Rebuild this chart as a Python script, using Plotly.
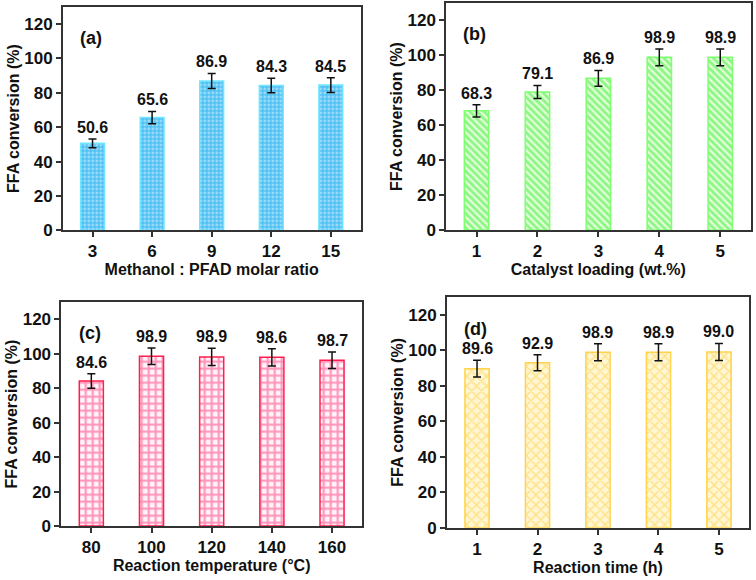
import plotly.graph_objects as go

# ---- data ----
a_cats = ["3", "6", "9", "12", "15"]
a_vals = [50.6, 65.6, 86.9, 84.3, 84.5]
a_err = [2.6, 3.6, 4.4, 4.2, 4.3]
a_labels = ["50.6", "65.6", "86.9", "84.3", "84.5"]

b_cats = ["1", "2", "3", "4", "5"]
b_vals = [68.3, 79.1, 86.9, 98.9, 98.9]
b_err = [3.5, 3.7, 4.5, 4.8, 4.8]
b_labels = ["68.3", "79.1", "86.9", "98.9", "98.9"]

c_cats = ["80", "100", "120", "140", "160"]
c_vals = [84.2, 98.6, 98.2, 98.0, 96.3]
c_err = [4.2, 4.8, 5.0, 5.0, 4.8]
c_labels = ["84.6", "98.9", "98.9", "98.6", "98.7"]

d_cats = ["1", "2", "3", "4", "5"]
d_vals = [89.6, 92.9, 98.9, 98.9, 99.0]
d_err = [4.7, 4.5, 4.8, 4.8, 4.8]
d_labels = ["89.6", "92.9", "98.9", "98.9", "99.0"]

y_ticks = [0, 20, 40, 60, 80, 100, 120]
y_title = "FFA conversion (%)"
x_titles = ["Methanol : PFAD molar ratio", "Catalyst loading (wt.%)",
            "Reaction temperature (°C)", "Reaction time (h)"]
panel_tags = ["(a)", "(b)", "(c)", "(d)"]

FONT = "Liberation Sans, Arial, sans-serif"

panels = [
    dict(cats=a_cats, vals=a_vals, err=a_err, labels=a_labels,
         bg="#4fc0f2", fg="#eaf8ff", shape=".", size=4, sol=0.4, line="#6fe6ff",
         xd=[0.083, 0.477], yd=[0.603, 0.988]),
    dict(cats=b_cats, vals=b_vals, err=b_err, labels=b_labels,
         bg="#e4ffd8", fg="#33ee33", shape="\\", size=5, sol=0.55, line="#7dff6e",
         xd=[0.590, 0.993], yd=[0.603, 0.995]),
    dict(cats=c_cats, vals=c_vals, err=c_err, labels=c_labels,
         bg="#fff4f8", fg="#ff2f7a", shape="+", size=7, sol=0.5, line="#ff1f4f",
         xd=[0.081, 0.479], yd=[0.093, 0.479]),
    dict(cats=d_cats, vals=d_vals, err=d_err, labels=d_labels,
         bg="#fff6d2", fg="#ffc933", shape="x", size=7, sol=0.35, line="#ffd34d",
         xd=[0.591, 0.991], yd=[0.090, 0.488]),
]

fig = go.Figure()
layout = dict(width=756, height=580, margin=dict(l=0, r=0, t=0, b=0),
              paper_bgcolor="white", plot_bgcolor="white", showlegend=False,
              font=dict(family=FONT, color="#111"))
annotations = []

for i, p in enumerate(panels):
    n = "" if i == 0 else str(i + 1)
    xa, ya = "x" + n, "y" + n
    fig.add_trace(go.Bar(
        x=p["cats"], y=p["vals"], xaxis=xa, yaxis=ya, width=0.4,
        marker=dict(color=p["bg"], line=dict(color=p["line"], width=1.5),
                    pattern=dict(shape=p["shape"], fgcolor=p["fg"], bgcolor=p["bg"],
                                 size=p["size"], solidity=p["sol"], fillmode="overlay")),
        error_y=dict(type="data", array=p["err"], color="#111", thickness=1.5, width=4),
    ))
    for k, (v, e, lab) in enumerate(zip(p["vals"], p["err"], p["labels"])):
        annotations.append(dict(
            text=lab, xref=xa, yref=ya, x=k, y=v + e, showarrow=False,
            xanchor="center", yanchor="bottom", yshift=1,
            font=dict(family=FONT, size=16, color="#111", weight="bold"),
        ))
    layout["xaxis" + n] = dict(
        domain=p["xd"], anchor=ya, type="category", range=[-0.5, 4.5],
        showline=True, mirror=True, linecolor="#333", linewidth=1.5,
        ticks="outside", ticklen=5, tickwidth=1.5, tickcolor="#333",
        tickfont=dict(family=FONT, size=17, color="#111", weight="bold"),
        title=dict(text=x_titles[i], standoff=2,
                   font=dict(family=FONT, size=16, color="#111", weight="bold")),
        showgrid=False, zeroline=False, automargin=False,
    )
    layout["yaxis" + n] = dict(
        domain=p["yd"], anchor=xa, range=[0, 130], tickvals=y_ticks,
        showline=True, mirror=True, linecolor="#333", linewidth=1.5,
        ticks="outside", ticklen=5, tickwidth=1.5, tickcolor="#333",
        tickfont=dict(family=FONT, size=17, color="#111", weight="bold"),
        title=dict(text=y_title, standoff=1,
                   font=dict(family=FONT, size=16, color="#111", weight="bold")),
        showgrid=False, zeroline=False, automargin=False,
    )
    annotations.append(dict(
        text=panel_tags[i], xref=xa + " domain", yref=ya, x=0.095, y=112,
        showarrow=False, xanchor="center", yanchor="middle",
        font=dict(family=FONT, size=18, color="#111", weight="bold"),
    ))

layout["annotations"] = annotations
fig.update_layout(**layout)
fig.write_html("out.html", config={"displayModeBar": False},
               post_script="document.body.style.margin='0';document.body.style.overflow='hidden';")
